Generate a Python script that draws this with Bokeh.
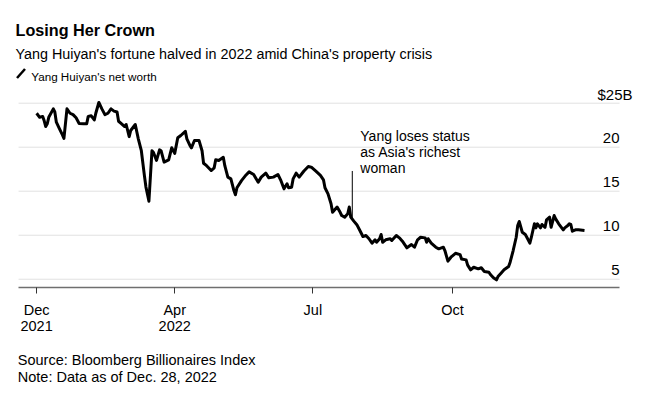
import pandas as pd
from bokeh.plotting import figure
from bokeh.layouts import column
from bokeh.models import Label, Arrow, FixedTicker, Range1d, ColumnDataSource
from bokeh.core.properties import value
from bokeh.embed import file_html
from bokeh.resources import INLINE

# ---------------- data ----------------
dates = [
    "2021-12-31","2022-01-02","2022-01-04","2022-01-05","2022-01-06","2022-01-07","2022-01-08","2022-01-11","2022-01-12","2022-01-13",
    "2022-01-15","2022-01-17","2022-01-18","2022-01-20","2022-01-22","2022-01-24","2022-01-26","2022-01-28","2022-01-31","2022-02-02",
    "2022-02-03","2022-02-05","2022-02-07","2022-02-08","2022-02-10","2022-02-12","2022-02-14","2022-02-16","2022-02-18","2022-02-20",
    "2022-02-22","2022-02-23","2022-02-25","2022-02-27","2022-02-28","2022-03-02","2022-03-03","2022-03-06","2022-03-08","2022-03-10",
    "2022-03-12","2022-03-13","2022-03-15","2022-03-17","2022-03-18","2022-03-20","2022-03-22","2022-03-23","2022-03-25","2022-03-28",
    "2022-03-29","2022-03-30","2022-04-01","2022-04-03","2022-04-05","2022-04-08","2022-04-09","2022-04-11","2022-04-12","2022-04-14",
    "2022-04-17","2022-04-19","2022-04-20","2022-04-22","2022-04-25","2022-04-27","2022-04-28","2022-04-30","2022-05-03","2022-05-04",
    "2022-05-06","2022-05-08","2022-05-10","2022-05-11","2022-05-12","2022-05-15","2022-05-18","2022-05-20","2022-05-23","2022-05-26",
    "2022-05-28","2022-05-31","2022-06-02","2022-06-05","2022-06-08","2022-06-10","2022-06-12","2022-06-14","2022-06-15","2022-06-17",
    "2022-06-18","2022-06-20","2022-06-22","2022-06-25","2022-06-28","2022-06-30","2022-07-03","2022-07-06","2022-07-08","2022-07-09",
    "2022-07-11","2022-07-13","2022-07-14","2022-07-15","2022-07-17","2022-07-19","2022-07-20","2022-07-22","2022-07-24","2022-07-25",
    "2022-07-26","2022-07-28","2022-07-30","2022-08-01","2022-08-03","2022-08-05","2022-08-07","2022-08-09","2022-08-11","2022-08-12",
    "2022-08-14","2022-08-15","2022-08-16","2022-08-18","2022-08-21","2022-08-22","2022-08-25","2022-08-27","2022-08-29","2022-09-01",
    "2022-09-04","2022-09-06","2022-09-08","2022-09-10","2022-09-13","2022-09-14","2022-09-15","2022-09-17","2022-09-20","2022-09-22",
    "2022-09-25","2022-09-26","2022-09-28","2022-09-30","2022-10-03","2022-10-06","2022-10-07","2022-10-10","2022-10-11","2022-10-13",
    "2022-10-15","2022-10-18","2022-10-20","2022-10-22","2022-10-25","2022-10-26","2022-10-28","2022-10-30","2022-10-31","2022-11-02",
    "2022-11-04","2022-11-07","2022-11-08","2022-11-10","2022-11-12","2022-11-13","2022-11-14","2022-11-16","2022-11-18","2022-11-19",
    "2022-11-21","2022-11-22","2022-11-24","2022-11-25","2022-11-26","2022-11-28","2022-11-29","2022-12-01","2022-12-02","2022-12-04",
    "2022-12-05","2022-12-07","2022-12-08","2022-12-10","2022-12-13","2022-12-14","2022-12-16","2022-12-17","2022-12-18","2022-12-19",
    "2022-12-21","2022-12-23","2022-12-27",
]

net_worth = [
    23.86, 23.4, 23.5, 23.0, 22.35, 22.66, 23.4, 24.36, 24.0, 22.84,
    22.1, 21.4, 21.0, 24.36, 23.86, 23.7, 23.34, 22.7, 22.66, 22.66,
    23.5, 23.57, 23.1, 23.86, 25.08, 24.36, 23.7, 23.86, 24.36, 24.1,
    24.0, 22.95, 22.66, 22.35, 22.58, 21.2, 21.9, 22.58, 20.95, 19.6,
    16.8, 15.5, 13.86, 19.6, 19.4, 18.5, 19.7, 19.6, 18.3, 18.57,
    19.25, 19.93, 19.3, 21.07, 21.33, 21.8, 20.95, 20.2, 19.93, 20.76,
    20.76, 19.6, 18.18, 17.9, 17.35, 17.66, 18.57, 18.5, 18.86, 17.9,
    16.6, 16.4, 15.08, 14.6, 15.39, 16.2, 16.85, 17.2, 16.9, 16.02,
    16.6, 17.05, 16.52, 16.6, 16.9, 16.2, 15.27, 15.84, 15.39, 15.45,
    16.4, 17.05, 16.6, 17.27, 17.8, 17.73, 17.27, 16.8, 16.3, 15.39,
    14.7, 13.57, 12.6, 12.8, 13.2, 12.6, 12.24, 12.05, 12.43, 13.2,
    12.05, 11.6, 11.2, 10.53, 9.85, 9.97, 9.6, 9.1, 9.48, 9.2,
    9.6, 10.08, 9.2, 9.48, 9.6, 9.4, 9.97, 9.7, 9.32, 8.57,
    8.94, 8.64, 9.48, 9.77, 9.7, 9.2, 9.6, 9.1, 8.64, 8.45,
    8.64, 8.26, 7.05, 7.5, 7.95, 7.8, 7.3, 7.2, 6.6, 6.07,
    6.36, 6.18, 6.3, 5.88, 5.8, 5.53, 5.16, 4.93, 5.3, 5.68,
    6.07, 6.44, 6.93, 8.26, 9.77, 11.1, 11.56, 10.34, 10.08, 9.77,
    9.1, 9.77, 11.3, 10.84, 11.3, 10.84, 11.22, 10.9, 11.74, 12.05,
    10.9, 12.24, 11.86, 11.3, 10.61, 10.84, 11.1, 11.3, 11.22, 10.45,
    10.61, 10.61, 10.53,
]

ytick_values = [5, 10, 15, 20, 25]
ytick_labels = ["5", "10", "15", "20", "$25B"]
xtick_dates = ["2021-12-31", "2022-04-01", "2022-07-01", "2022-10-01"]
xtick_labels = ["Dec\n2021", "Apr\n2022", "Jul", "Oct"]

annot_date = "2022-07-27"
annot_low = 11.8
annot_high = 17.3
annot_lines = ["Yang loses status", "as Asia's richest", "woman"]

title = "Losing Her Crown"
subtitle = "Yang Huiyan's fortune halved in 2022 amid China's property crisis"
legend_label = "Yang Huiyan's net worth"
source_lines = ["Source: Bloomberg Billionaires Index", "Note: Data as of Dec. 28, 2022"]

# ---------------- styling ----------------
SANS = "Liberation Sans"
W = 640
MAIN_H, FOOT_H = 345, 45
FRAME_H = 287  # frame spans page y 0..287

# ---------------- main chart (frame covers header area too) ----------------
x_start = pd.Timestamp("2021-12-07 04:48")   # left edge of canvas
grid_start = pd.Timestamp("2021-12-19 02:24")
grid_end = pd.Timestamp("2023-01-19 02:24")
x_end = pd.Timestamp("2023-02-01 21:36")

p = figure(width=W, height=MAIN_H, x_axis_type="datetime",
           x_range=Range1d(x_start, x_end), y_range=Range1d(4.06, 36.67),
           output_backend="svg", toolbar_location=None, y_axis_location=None,
           min_border_left=0, min_border_right=0, min_border_top=0,
           min_border_bottom=MAIN_H - FRAME_H)
p.outline_line_color = None
p.background_fill_color = "white"
p.border_fill_color = "white"
p.grid.visible = False

# gridlines
n = len(ytick_values)
p.segment(x0=[grid_start] * n, x1=[grid_end] * n, y0=ytick_values, y1=ytick_values,
          line_color="#e1e1e1", line_width=1)

# x axis
tick_ms = [pd.Timestamp(d).timestamp() * 1000.0 for d in xtick_dates]
xa = p.xaxis[0]
xa.ticker = FixedTicker(ticks=tick_ms)
xa.major_label_overrides = {t: lab for t, lab in zip(tick_ms, xtick_labels)}
xa.bounds = (grid_start, grid_end)
xa.axis_line_color = "#6f6f6f"
xa.axis_line_width = 1.5
xa.major_tick_line_color = "#333333"
xa.major_tick_line_width = 1
xa.major_tick_out = 6
xa.major_tick_in = 0
xa.minor_tick_line_color = None
xa.major_label_text_font = SANS
xa.major_label_text_font_size = "14.5px"
xa.major_label_text_color = "#000000"
xa.major_label_text_line_height = 1.0
xa.major_label_standoff = 8

# data line
src = ColumnDataSource(dict(date=pd.to_datetime(dates), value=net_worth))
p.line(x="date", y="value", source=src, line_color="black", line_width=3, line_join="round")

# annotation
adt = pd.Timestamp(annot_date)
p.segment(x0=[adt], y0=[annot_low], x1=[adt], y1=[annot_high], line_color="black", line_width=1)
for i, line in enumerate(annot_lines):
    p.add_layout(Label(x=adt, y=annot_high, text=line, x_offset=8, y_offset=35 - 16 * i,
                       text_font=SANS, text_font_size="14px", text_color="#000000",
                       text_baseline="alphabetic"))

# y tick labels (above gridlines, right aligned at gridline end)
for v, lab in zip(ytick_values, ytick_labels):
    p.add_layout(Label(x=grid_end, y=v, text=lab,
                       x_offset=(13 if lab.endswith("B") else 0), y_offset=9,
                       text_align="right", text_baseline="alphabetic",
                       text_font=SANS, text_font_size="15px", text_color="#000000"))

# header texts (screen units: from frame bottom-left, upward)
def page_label(text, px, py, size, bold=False):
    return Label(x=px, y=FRAME_H - py, x_units="screen", y_units="screen", text=text,
                 text_font=SANS, text_font_style=("bold" if bold else "normal"),
                 text_font_size=size, text_color="#000000", text_baseline="alphabetic")

p.add_layout(page_label(title, 15, 29.3, "16.2px", bold=True))
p.add_layout(page_label(subtitle, 15, 53.3, "14.35px"))
p.add_layout(Arrow(x_start=16.5, y_start=FRAME_H - 77.5, x_end=24.5, y_end=FRAME_H - 68.5,
                   start_units="screen", end_units="screen", end=None,
                   line_color="black", line_width=2.5))
p.add_layout(page_label(legend_label, 30.7, 76.2, "11.7px"))

# ---------------- footer ----------------
foot = figure(width=W, height=FOOT_H, x_range=Range1d(0, W), y_range=Range1d(FOOT_H, 0),
              output_backend="svg", toolbar_location=None,
              x_axis_location=None, y_axis_location=None,
              min_border=0, min_border_left=0, min_border_right=0,
              min_border_top=0, min_border_bottom=0)
foot.outline_line_color = None
foot.grid.visible = False
for i, line in enumerate(source_lines):
    foot.text(x=[17.3], y=[14.3 + 17.4 * i], text=[line], text_font=value(SANS),
              text_font_size="14.5px", text_color="#000000", text_baseline="alphabetic")

layout = column(p, foot, spacing=0)
open("out.html", "w").write(file_html(layout, INLINE))
